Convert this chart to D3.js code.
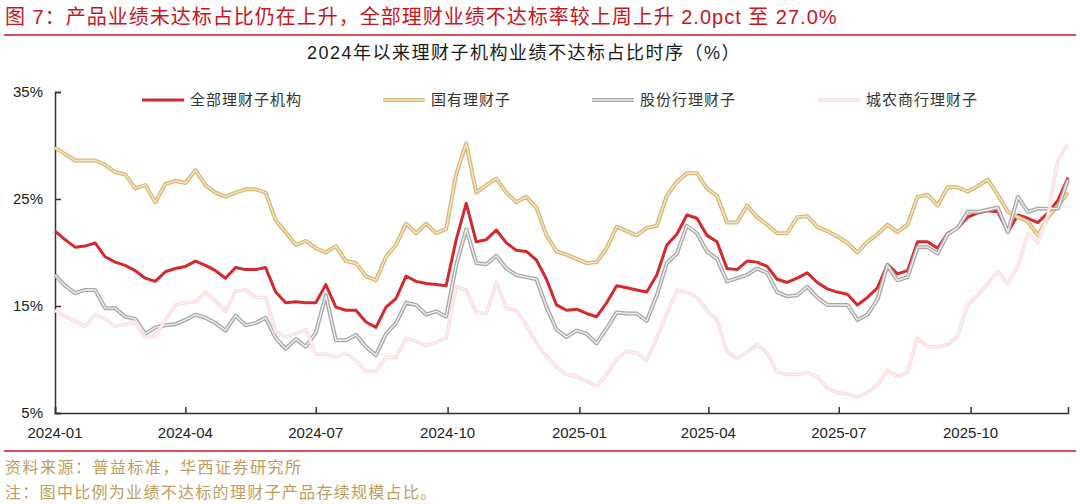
<!DOCTYPE html>
<html lang="zh">
<head>
<meta charset="UTF-8">
<title>理财子机构业绩不达标占比</title>
<script src="https://d3js.org/d3.v7.min.js"></script>
<style>
  body { margin: 0; background: #fff; }
  svg { display: block; font-family: "Liberation Sans", "Noto Sans CJK SC", sans-serif; }
</style>
</head>
<body>
<svg id="chart" width="1080" height="504"></svg>
<script>
'use strict';

// weekly observations, first week of 2024 onwards (%)
const startDate = new Date(2024, 0, 1);
const seriesNames = ['全部理财子机构', '国有理财子', '股份行理财子', '城农商行理财子'];

const allInst = [
  22.0, 21.2, 20.5, 20.6, 20.9, 19.6, 19.1, 18.8, 18.3, 17.6, 17.3, 18.2, 18.5, 18.7, 19.2, 18.8,
  18.3, 17.6, 18.6, 18.4, 18.4, 18.6, 16.3, 15.3, 15.4, 15.3, 15.3, 17.0, 14.9, 14.6, 14.6, 13.5,
  13.0, 14.9, 15.7, 17.8, 17.3, 17.1, 17.0, 16.9, 21.2, 24.6, 21.0, 21.2, 22.1, 20.9, 20.2, 20.1,
  19.3, 17.5, 15.1, 14.6, 14.7, 14.3, 14.0, 15.3, 16.9, 16.7, 16.5, 16.3, 17.9, 20.7, 21.7, 23.5,
  23.2, 21.6, 21.0,
  18.5, 18.4, 19.2, 19.1, 18.7, 17.5, 17.2, 17.6, 18.1, 17.2, 16.6, 16.3, 16.1, 15.1, 15.8, 16.7,
  18.9, 18.0, 18.3, 21.0, 21.0, 20.4, 21.8, 22.3, 23.3, 23.7, 23.9, 23.8, 21.9, 23.5, 23.2, 22.8,
  23.7, 24.9, 27.0
];

const stateOwned = [
  29.8, 29.2, 28.6, 28.6, 28.6, 28.2, 27.5, 27.3, 26.0, 26.3, 24.7, 26.4, 26.7, 26.5, 27.7, 26.3,
  25.6, 25.2, 25.6, 25.9, 25.9, 25.6, 23.0, 21.9, 20.7, 21.1, 20.4, 20.0, 20.6, 19.2, 19.0, 17.8,
  17.4, 19.6, 20.7, 22.7, 21.8, 22.7, 21.8, 22.2, 27.3, 30.2, 25.6, 26.3, 26.9, 25.6, 24.7, 25.2,
  24.2, 21.6, 20.1, 19.8, 19.4, 19.0, 19.1, 20.4, 22.4, 22.0, 21.6, 22.3, 22.5, 25.3, 26.6, 27.4,
  27.4, 26.0, 25.3,
  22.8, 22.8, 24.4, 23.3, 22.6, 21.8, 21.8, 23.3, 23.4, 22.4, 22.0, 21.5, 20.9, 20.0, 21.0, 21.7,
  22.6, 21.9, 22.6, 25.2, 25.4, 24.4, 26.1, 26.1, 25.7, 26.2, 26.8, 25.4, 23.8, 23.3, 22.9, 21.6,
  23.3, 24.4, 25.6
];

const jointStock = [
  17.9, 16.9, 16.2, 16.5, 16.5, 14.8, 14.8, 14.0, 13.8, 12.4, 13.0, 13.2, 13.3, 13.7, 14.2, 13.9,
  13.4, 12.7, 14.1, 13.2, 13.4, 13.9, 12.0, 11.0, 11.9, 11.2, 12.5, 16.0, 11.8, 11.8, 12.3, 11.2,
  10.4, 12.4, 13.4, 15.3, 15.1, 14.2, 14.5, 14.0, 18.8, 22.2, 19.0, 18.9, 19.7, 18.5, 17.9, 17.7,
  17.5, 14.9, 12.8, 12.1, 12.7, 12.4, 11.5, 12.9, 14.4, 14.3, 14.3, 13.6, 16.0, 19.0, 19.9, 22.5,
  21.8, 20.1, 19.4,
  17.3, 17.6, 17.9, 18.5, 18.1, 16.3, 15.9, 16.0, 16.8, 15.8, 15.1, 15.1, 15.1, 13.7, 14.2, 15.6,
  18.8, 17.4, 17.7, 20.5, 20.5, 19.9, 21.7, 22.3, 23.8, 23.8, 24.0, 24.2, 21.9, 25.2, 23.8, 24.1,
  24.1, 24.1, 26.8
];

const cityRural = [
  14.6, 14.0, 13.6, 13.1, 14.2, 13.8, 13.1, 13.3, 13.5, 12.0, 12.2, 13.7, 15.1, 15.3, 15.4, 16.3,
  15.5, 14.5, 16.4, 16.5, 15.8, 15.8, 12.6, 12.1, 12.4, 12.8, 10.5, 10.5, 10.2, 10.6, 9.9, 8.9,
  8.9, 10.2, 10.2, 12.0, 11.7, 11.3, 11.6, 12.0, 16.8, 16.5, 14.4, 14.3, 17.2, 14.8, 14.6, 13.2,
  11.5, 10.3, 9.3, 8.6, 8.4, 8.0, 7.5, 8.6, 10.0, 10.8, 10.6, 9.9, 12.0, 14.3, 16.5, 16.3,
  15.8, 14.6, 13.7,
  10.7, 10.1, 10.7, 11.4, 10.6, 8.8, 8.6, 8.6, 8.8, 8.4, 7.3, 6.9, 6.8, 6.5, 6.9, 7.6,
  9.0, 8.4, 8.8, 12.0, 11.2, 11.2, 11.4, 12.2, 15.1, 16.0, 17.1, 18.2, 17.1, 18.7, 21.8, 20.9,
  23.5, 28.7, 30.1
];

const yTicks = [5, 15, 25, 35];
const xTickDates = ['2024-01', '2024-04', '2024-07', '2024-10', '2025-01', '2025-04', '2025-07', '2025-10'];

const svg = d3.select('#chart');

// header
svg.append('text')
  .attr('x', 5).attr('y', 24)
  .attr('fill', '#c8161d')
  .attr('font-size', 20)
  .attr('letter-spacing', 1)
  .text('图 7：产品业绩未达标占比仍在上升，全部理财业绩不达标率较上周上升 2.0pct 至 27.0%');
svg.append('line')
  .attr('x1', 4).attr('x2', 1076).attr('y1', 35).attr('y2', 35)
  .attr('stroke', '#c8161d').attr('stroke-width', 1.5);

svg.append('text')
  .attr('x', 524).attr('y', 59)
  .attr('text-anchor', 'middle')
  .attr('fill', '#1a1a1a')
  .attr('font-size', 18)
  .attr('letter-spacing', 1.5)
  .text('2024年以来理财子机构业绩不达标占比时序（%）');

// scales
const x = d3.scaleTime()
  .domain([startDate, d3.timeDay.offset(startDate, 707)])
  .range([55, 1068]);
const y = d3.scaleLinear().domain([5, 35]).range([413, 92]);

const dates = allInst.map((_, i) => d3.timeDay.offset(startDate, 7 * i));
const parseMonth = d3.timeParse('%Y-%m');

// axes
const yAxis = svg.append('g')
  .attr('transform', 'translate(55,0)')
  .call(d3.axisRight(y).tickValues(yTicks).tickSize(6).tickFormat(''));
yAxis.select('.domain').attr('stroke', '#333').attr('stroke-width', 1.5);
yAxis.selectAll('.tick line').attr('stroke', '#333').attr('stroke-width', 1.5);

svg.append('g').selectAll('text')
  .data(yTicks)
  .join('text')
  .attr('x', 43).attr('y', d => y(d) + 5)
  .attr('text-anchor', 'end')
  .attr('font-size', 15)
  .attr('fill', '#222')
  .text(d => d + '%');

const xAxis = svg.append('g')
  .attr('transform', 'translate(0,413)')
  .call(d3.axisTop(x).tickValues(xTickDates.map(parseMonth)).tickSize(6).tickFormat(''));
xAxis.select('.domain').attr('stroke', '#333').attr('stroke-width', 1.5);
xAxis.selectAll('.tick line').attr('stroke', '#333').attr('stroke-width', 1.5);

svg.append('g').selectAll('text')
  .data(xTickDates)
  .join('text')
  .attr('x', d => x(parseMonth(d)))
  .attr('y', 438)
  .attr('text-anchor', 'middle')
  .attr('font-size', 15)
  .attr('fill', '#222')
  .text(d => d);

// series
const styles = [
  { data: allInst, outer: '#d42a2f', outerW: 3, inner: null },
  { data: stateOwned, outer: '#d9b775', outerW: 4, inner: '#f3e6c6', innerW: 1.4 },
  { data: jointStock, outer: '#a8a8a8', outerW: 4, inner: '#eeeeee', innerW: 1.4 },
  { data: cityRural, outer: '#f8dede', outerW: 3.6, inner: '#fdf2f2', innerW: 1.2 }
];

const line = d3.line()
  .x((d, i) => x(dates[i]))
  .y(d => y(d));

const plot = svg.append('g');
styles.forEach(s => {
  plot.append('path')
    .attr('d', line(s.data))
    .attr('fill', 'none')
    .attr('stroke', s.outer)
    .attr('stroke-width', s.outerW)
    .attr('stroke-linejoin', 'round');
  if (s.inner) {
    plot.append('path')
      .attr('d', line(s.data))
      .attr('fill', 'none')
      .attr('stroke', s.inner)
      .attr('stroke-width', s.innerW);
  }
});

// legend
const legendX = [142, 383, 592, 818];
const legend = svg.append('g');
styles.forEach((s, i) => {
  const g = legend.append('g').attr('transform', `translate(${legendX[i]},100)`);
  g.append('line').attr('x1', 0).attr('x2', 42).attr('y1', 0).attr('y2', 0)
    .attr('stroke', s.outer).attr('stroke-width', s.outerW);
  if (s.inner) {
    g.append('line').attr('x1', 0).attr('x2', 42).attr('y1', 0).attr('y2', 0)
      .attr('stroke', s.inner).attr('stroke-width', s.innerW);
  }
  g.append('text')
    .attr('x', 48).attr('y', 5)
    .attr('font-size', 15)
    .attr('letter-spacing', 1)
    .attr('fill', '#333')
    .text(seriesNames[i]);
});

// footer
svg.append('line')
  .attr('x1', 4).attr('x2', 1076).attr('y1', 451).attr('y2', 451)
  .attr('stroke', '#c8161d').attr('stroke-width', 1.5);
svg.append('text')
  .attr('x', 5).attr('y', 473)
  .attr('font-size', 16).attr('letter-spacing', 1.5)
  .attr('fill', '#bf9c60')
  .text('资料来源：普益标准，华西证券研究所');
svg.append('text')
  .attr('x', 5).attr('y', 498)
  .attr('font-size', 16).attr('letter-spacing', 1.3)
  .attr('fill', '#bf9c60')
  .text('注：图中比例为业绩不达标的理财子产品存续规模占比。');
</script>
</body>
</html>
